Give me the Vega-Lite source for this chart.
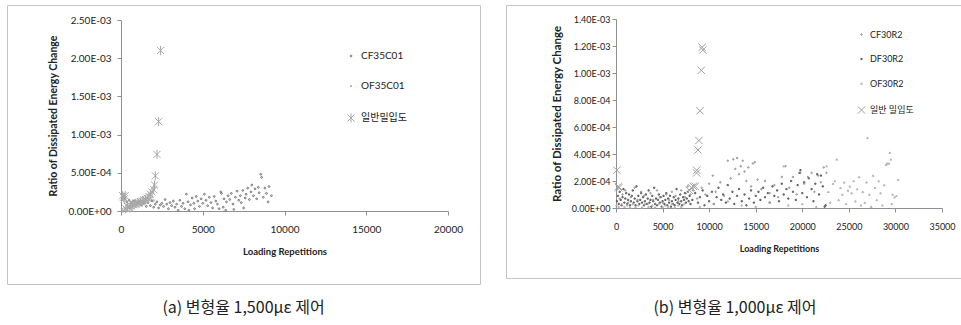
{
"$schema": "https://vega.github.io/schema/vega-lite/v6.json",
"padding": {"left": 6, "top": 4, "right": 0, "bottom": 0},
"background": "white",
"config": {"view": {"stroke": "#c4c4c4", "strokeWidth": 1}, "concat": {"spacing": 24}},
"resolve": {"scale": {"color": "independent", "shape": "independent", "size": "independent", "x": "independent", "y": "independent"}, "legend": {"color": "independent", "shape": "independent", "size": "independent"}},
"hconcat": [
{
"width": 473, "height": 279,
"data": {"values": [
{"s":"CF35C01","x":150,"y":1.9e-4},{"s":"CF35C01","x":250,"y":1.6e-4},{"s":"CF35C01","x":350,"y":1.2e-4},{"s":"CF35C01","x":500,"y":1.4e-4},{"s":"CF35C01","x":650,"y":1.1e-4},{"s":"CF35C01","x":800,"y":1.3e-4},{"s":"CF35C01","x":950,"y":0.9e-4},{"s":"CF35C01","x":1100,"y":1.2e-4},{"s":"CF35C01","x":1250,"y":0.8e-4},{"s":"CF35C01","x":1400,"y":1.0e-4},{"s":"CF35C01","x":1550,"y":0.6e-4},{"s":"CF35C01","x":1650,"y":1.1e-4},{"s":"CF35C01","x":1800,"y":0.7e-4},{"s":"CF35C01","x":1900,"y":1.3e-4},{"s":"CF35C01","x":2000,"y":0.5e-4},{"s":"CF35C01","x":2100,"y":0.9e-4},{"s":"CF35C01","x":2200,"y":1.2e-4},{"s":"CF35C01","x":2300,"y":0.4e-4},{"s":"CF35C01","x":2400,"y":0.8e-4},{"s":"CF35C01","x":2500,"y":1.0e-4},{"s":"CF35C01","x":2600,"y":0.6e-4},{"s":"CF35C01","x":2700,"y":1.5e-4},{"s":"CF35C01","x":2800,"y":0.9e-4},{"s":"CF35C01","x":2900,"y":0.3e-4},{"s":"CF35C01","x":3000,"y":1.1e-4},{"s":"CF35C01","x":3100,"y":0.7e-4},{"s":"CF35C01","x":3200,"y":1.3e-4},{"s":"CF35C01","x":3300,"y":0.5e-4},{"s":"CF35C01","x":3400,"y":0.9e-4},{"s":"CF35C01","x":3500,"y":0.1e-4},{"s":"CF35C01","x":3600,"y":1.4e-4},{"s":"CF35C01","x":3700,"y":0.6e-4},{"s":"CF35C01","x":3800,"y":1.0e-4},{"s":"CF35C01","x":3900,"y":0.3e-4},{"s":"CF35C01","x":4000,"y":2.2e-4},{"s":"CF35C01","x":4100,"y":1.2e-4},{"s":"CF35C01","x":4150,"y":0.1e-4},{"s":"CF35C01","x":4250,"y":0.8e-4},{"s":"CF35C01","x":4350,"y":1.7e-4},{"s":"CF35C01","x":4450,"y":1.0e-4},{"s":"CF35C01","x":4500,"y":0.3e-4},{"s":"CF35C01","x":4600,"y":1.9e-4},{"s":"CF35C01","x":4700,"y":1.3e-4},{"s":"CF35C01","x":4800,"y":0.6e-4},{"s":"CF35C01","x":4900,"y":1.6e-4},{"s":"CF35C01","x":5000,"y":1.0e-4},{"s":"CF35C01","x":5100,"y":2.2e-4},{"s":"CF35C01","x":5200,"y":1.4e-4},{"s":"CF35C01","x":5300,"y":0.7e-4},{"s":"CF35C01","x":5400,"y":1.8e-4},{"s":"CF35C01","x":5500,"y":1.1e-4},{"s":"CF35C01","x":5600,"y":0.4e-4},{"s":"CF35C01","x":5700,"y":1.9e-4},{"s":"CF35C01","x":5800,"y":1.3e-4},{"s":"CF35C01","x":5900,"y":0.9e-4},{"s":"CF35C01","x":6000,"y":0.3e-4},{"s":"CF35C01","x":6100,"y":2.5e-4},{"s":"CF35C01","x":6150,"y":2.3e-4},{"s":"CF35C01","x":6250,"y":0.5e-4},{"s":"CF35C01","x":6300,"y":1.6e-4},{"s":"CF35C01","x":6400,"y":0.1e-4},{"s":"CF35C01","x":6450,"y":1.2e-4},{"s":"CF35C01","x":6550,"y":2.0e-4},{"s":"CF35C01","x":6650,"y":1.5e-4},{"s":"CF35C01","x":6750,"y":2.3e-4},{"s":"CF35C01","x":6850,"y":0.9e-4},{"s":"CF35C01","x":6900,"y":0.2e-4},{"s":"CF35C01","x":7000,"y":1.8e-4},{"s":"CF35C01","x":7100,"y":2.6e-4},{"s":"CF35C01","x":7200,"y":1.4e-4},{"s":"CF35C01","x":7300,"y":2.0e-4},{"s":"CF35C01","x":7350,"y":1.1e-4},{"s":"CF35C01","x":7450,"y":2.7e-4},{"s":"CF35C01","x":7500,"y":0.4e-4},{"s":"CF35C01","x":7600,"y":1.7e-4},{"s":"CF35C01","x":7650,"y":2.2e-4},{"s":"CF35C01","x":7750,"y":3.0e-4},{"s":"CF35C01","x":7850,"y":1.5e-4},{"s":"CF35C01","x":7950,"y":2.5e-4},{"s":"CF35C01","x":8000,"y":3.4e-4},{"s":"CF35C01","x":8100,"y":2.0e-4},{"s":"CF35C01","x":8200,"y":2.9e-4},{"s":"CF35C01","x":8300,"y":1.6e-4},{"s":"CF35C01","x":8400,"y":3.1e-4},{"s":"CF35C01","x":8450,"y":2.4e-4},{"s":"CF35C01","x":8550,"y":4.8e-4},{"s":"CF35C01","x":8600,"y":4.4e-4},{"s":"CF35C01","x":8700,"y":1.8e-4},{"s":"CF35C01","x":8800,"y":3.0e-4},{"s":"CF35C01","x":8900,"y":2.3e-4},{"s":"CF35C01","x":9000,"y":1.2e-4},{"s":"CF35C01","x":9050,"y":3.2e-4},{"s":"CF35C01","x":9200,"y":2.0e-4},
{"s":"OF35C01","x":50,"y":0.3e-4},{"s":"OF35C01","x":100,"y":0.1e-4},{"s":"OF35C01","x":150,"y":0},{"s":"OF35C01","x":200,"y":0.4e-4},{"s":"OF35C01","x":300,"y":0.2e-4},{"s":"OF35C01","x":350,"y":0.6e-4},{"s":"OF35C01","x":400,"y":0},{"s":"OF35C01","x":450,"y":0.4e-4},{"s":"OF35C01","x":550,"y":0.8e-4},{"s":"OF35C01","x":600,"y":0.5e-4},{"s":"OF35C01","x":650,"y":0.2e-4},{"s":"OF35C01","x":700,"y":0.9e-4},{"s":"OF35C01","x":800,"y":0.6e-4},{"s":"OF35C01","x":850,"y":1.0e-4},{"s":"OF35C01","x":950,"y":0.8e-4},{"s":"OF35C01","x":1050,"y":1.1e-4},{"s":"OF35C01","x":1150,"y":0.9e-4},{"s":"OF35C01","x":1250,"y":1.3e-4},{"s":"OF35C01","x":1350,"y":1.0e-4},{"s":"OF35C01","x":1450,"y":1.2e-4},{"s":"OF35C01","x":1550,"y":1.4e-4},{"s":"OF35C01","x":1650,"y":1.3e-4},{"s":"OF35C01","x":1700,"y":1.6e-4},{"s":"OF35C01","x":1800,"y":1.5e-4},{"s":"OF35C01","x":1900,"y":1.8e-4},{"s":"OF35C01","x":2000,"y":1.4e-4},
{"s":"일반밀입도","x":100,"y":2.0e-4},{"s":"일반밀입도","x":150,"y":1.8e-4},{"s":"일반밀입도","x":200,"y":1.6e-4},{"s":"일반밀입도","x":250,"y":2.0e-4},{"s":"일반밀입도","x":300,"y":0.3e-4},{"s":"일반밀입도","x":400,"y":0.6e-4},{"s":"일반밀입도","x":500,"y":0.5e-4},{"s":"일반밀입도","x":600,"y":0.7e-4},{"s":"일반밀입도","x":700,"y":0.9e-4},{"s":"일반밀입도","x":800,"y":0.8e-4},{"s":"일반밀입도","x":900,"y":1.0e-4},{"s":"일반밀입도","x":1000,"y":1.1e-4},{"s":"일반밀입도","x":1100,"y":1.0e-4},{"s":"일반밀입도","x":1200,"y":1.2e-4},{"s":"일반밀입도","x":1300,"y":1.3e-4},{"s":"일반밀입도","x":1400,"y":1.4e-4},{"s":"일반밀입도","x":1500,"y":1.5e-4},{"s":"일반밀입도","x":1600,"y":1.7e-4},{"s":"일반밀입도","x":1700,"y":1.9e-4},{"s":"일반밀입도","x":1800,"y":2.2e-4},{"s":"일반밀입도","x":1900,"y":2.5e-4},{"s":"일반밀입도","x":2000,"y":2.8e-4},{"s":"일반밀입도","x":2050,"y":3.4e-4},{"s":"일반밀입도","x":2100,"y":4.6e-4},{"s":"일반밀입도","x":2200,"y":7.4e-4},{"s":"일반밀입도","x":2300,"y":1.17e-3},{"s":"일반밀입도","x":2420,"y":2.1e-3}
]},
"mark": {"type": "point", "filled": false, "strokeWidth": 1, "opacity": 1},
"encoding": {
"x": {"field": "x", "type": "quantitative",
 "scale": {"domain": [0, 20000], "range": [114, 441], "nice": false, "zero": false},
 "axis": {"orient": "bottom", "offset": -73, "values": [0, 5000, 10000, 15000, 20000], "format": "d", "grid": false, "labelFlush": false,
  "domainColor": "#909090", "tickColor": "#909090", "tickSize": 4, "labelFont": "Lato", "labelFontSize": 10, "labelColor": "#222",
  "labelPadding": 9, "title": "Loading Repetitions", "titleFont": "Lato", "titleFontSize": 9.5, "titleFontWeight": "bold", "titleColor": "#222", "titlePadding": 12}},
"y": {"field": "y", "type": "quantitative",
 "scale": {"domain": [0, 0.0025], "range": [206, 15], "nice": false, "zero": false},
 "axis": {"orient": "left", "offset": -114, "values": [0, 0.0005, 0.001, 0.0015, 0.002, 0.0025], "grid": false, "labelFlush": false,
  "labelExpr": "replace(replace(format(datum.value, '.2e'), 'e-', 'E-0'), 'e+', 'E+0')",
  "domainColor": "#909090", "tickColor": "#909090", "tickSize": 4, "labelFont": "Lato", "labelFontSize": 10, "labelColor": "#222",
  "labelPadding": 6, "title": "Ratio of Dissipated Energy Change", "titleFont": "Lato", "titleFontSize": 10.5, "titleFontWeight": "bold", "titleColor": "#222", "titlePadding": 10}},
"color": {"field": "s", "type": "nominal",
 "scale": {"domain": ["CF35C01", "OF35C01", "일반밀입도"], "range": ["#707070", "#a8a8a8", "#a8a8a8"]},
 "legend": {"orient": "none", "legendX": 339, "legendY": 46, "title": null, "rowPadding": 20, "labelFont": "Lato, Noto Sans CJK KR", "labelFontSize": 10, "labelColor": "#222", "labelOffset": 5, "symbolStrokeWidth": 1}},
"shape": {"field": "s", "type": "nominal",
 "scale": {"domain": ["CF35C01", "OF35C01", "일반밀입도"], "range": ["circle", "circle", "M-1,-1L1,1M-1,1L1,-1M0,-1.3L0,1.3"]}},
"size": {"field": "s", "type": "nominal",
 "scale": {"type": "ordinal", "domain": ["CF35C01", "OF35C01", "일반밀입도"], "range": [3, 2, 50]}}
},
"title": {"text": "(a)  변형율  1,500με  제어", "orient": "bottom", "font": "Noto Sans CJK KR", "fontSize": 16, "fontWeight": "normal", "color": "#222", "offset": 16}
},
{
"width": 458, "height": 273,
"data": {"values": [
{"s":"DF30R2","x":100,"y":0.5e-4},{"s":"DF30R2","x":200,"y":0.9e-4},{"s":"DF30R2","x":300,"y":0.3e-4},{"s":"DF30R2","x":400,"y":1.2e-4},{"s":"DF30R2","x":500,"y":0.6e-4},{"s":"DF30R2","x":600,"y":0.2e-4},{"s":"DF30R2","x":700,"y":0.8e-4},{"s":"DF30R2","x":800,"y":1.4e-4},{"s":"DF30R2","x":900,"y":0.4e-4},{"s":"DF30R2","x":1000,"y":0.7e-4},{"s":"DF30R2","x":1100,"y":1.1e-4},{"s":"DF30R2","x":1200,"y":0.3e-4},{"s":"DF30R2","x":1300,"y":0.6e-4},{"s":"DF30R2","x":1400,"y":1.0e-4},{"s":"DF30R2","x":1500,"y":0.2e-4},{"s":"DF30R2","x":1600,"y":0.5e-4},{"s":"DF30R2","x":1700,"y":0.9e-4},{"s":"DF30R2","x":1800,"y":1.3e-4},{"s":"DF30R2","x":1900,"y":0.4e-4},{"s":"DF30R2","x":2000,"y":0.7e-4},{"s":"DF30R2","x":2100,"y":0.2e-4},{"s":"DF30R2","x":2200,"y":1.6e-4},{"s":"DF30R2","x":2300,"y":0.5e-4},{"s":"DF30R2","x":2400,"y":0.9e-4},{"s":"DF30R2","x":2500,"y":0.3e-4},{"s":"DF30R2","x":2600,"y":0.6e-4},{"s":"DF30R2","x":2700,"y":1.1e-4},{"s":"DF30R2","x":2800,"y":0.4e-4},{"s":"DF30R2","x":2900,"y":0.8e-4},{"s":"DF30R2","x":3000,"y":0.2e-4},{"s":"DF30R2","x":3100,"y":0.5e-4},{"s":"DF30R2","x":3200,"y":1.0e-4},{"s":"DF30R2","x":3300,"y":0.3e-4},{"s":"DF30R2","x":3400,"y":0.7e-4},{"s":"DF30R2","x":3500,"y":1.3e-4},{"s":"DF30R2","x":3600,"y":0.4e-4},{"s":"DF30R2","x":3700,"y":0.6e-4},{"s":"DF30R2","x":3800,"y":0.1e-4},{"s":"DF30R2","x":3900,"y":0.9e-4},{"s":"DF30R2","x":4000,"y":0.5e-4},{"s":"DF30R2","x":4100,"y":1.5e-4},{"s":"DF30R2","x":4200,"y":0.3e-4},{"s":"DF30R2","x":4300,"y":0.7e-4},{"s":"DF30R2","x":4400,"y":0.2e-4},{"s":"DF30R2","x":4500,"y":0.6e-4},{"s":"DF30R2","x":4600,"y":1.0e-4},{"s":"DF30R2","x":4700,"y":0.4e-4},{"s":"DF30R2","x":4800,"y":0.8e-4},{"s":"DF30R2","x":4900,"y":0.1e-4},{"s":"DF30R2","x":5000,"y":0.5e-4},{"s":"DF30R2","x":5100,"y":0.9e-4},{"s":"DF30R2","x":5200,"y":0.3e-4},{"s":"DF30R2","x":5300,"y":0.6e-4},{"s":"DF30R2","x":5400,"y":1.1e-4},{"s":"DF30R2","x":5500,"y":0.2e-4},{"s":"DF30R2","x":5600,"y":0.7e-4},{"s":"DF30R2","x":5700,"y":0.4e-4},{"s":"DF30R2","x":5800,"y":0.9e-4},{"s":"DF30R2","x":5900,"y":0.1e-4},{"s":"DF30R2","x":6000,"y":0.5e-4},{"s":"DF30R2","x":6100,"y":0.3e-4},{"s":"DF30R2","x":6200,"y":0.8e-4},{"s":"DF30R2","x":6300,"y":0.2e-4},{"s":"DF30R2","x":6400,"y":0.6e-4},{"s":"DF30R2","x":6500,"y":1.4e-4},{"s":"DF30R2","x":6600,"y":0.4e-4},{"s":"DF30R2","x":6700,"y":0.7e-4},{"s":"DF30R2","x":6800,"y":0.3e-4},{"s":"DF30R2","x":6900,"y":1.0e-4},{"s":"DF30R2","x":7000,"y":0.5e-4},{"s":"DF30R2","x":7100,"y":0.2e-4},{"s":"DF30R2","x":7200,"y":0.8e-4},{"s":"DF30R2","x":7300,"y":0.6e-4},{"s":"DF30R2","x":7400,"y":1.1e-4},{"s":"DF30R2","x":7500,"y":0.4e-4},{"s":"DF30R2","x":7600,"y":0.7e-4},{"s":"DF30R2","x":7700,"y":1.2e-4},{"s":"DF30R2","x":7800,"y":0.5e-4},{"s":"DF30R2","x":7900,"y":0.9e-4},{"s":"DF30R2","x":8000,"y":0.3e-4},
{"s":"DF30R2","x":8200,"y":0.6e-4},{"s":"DF30R2","x":8500,"y":1.1e-4},{"s":"DF30R2","x":8800,"y":0.4e-4},{"s":"DF30R2","x":9000,"y":0.8e-4},{"s":"DF30R2","x":9300,"y":1.3e-4},{"s":"DF30R2","x":9500,"y":0.2e-4},{"s":"DF30R2","x":9800,"y":0.9e-4},{"s":"DF30R2","x":10000,"y":0.5e-4},{"s":"DF30R2","x":10300,"y":1.2e-4},{"s":"DF30R2","x":10500,"y":0.3e-4},{"s":"DF30R2","x":10800,"y":0.8e-4},{"s":"DF30R2","x":11000,"y":1.5e-4},{"s":"DF30R2","x":11300,"y":0.6e-4},{"s":"DF30R2","x":11500,"y":1.0e-4},{"s":"DF30R2","x":11800,"y":0.4e-4},{"s":"DF30R2","x":12000,"y":1.7e-4},{"s":"DF30R2","x":12200,"y":0.7e-4},{"s":"DF30R2","x":12500,"y":1.2e-4},{"s":"DF30R2","x":12700,"y":0.3e-4},{"s":"DF30R2","x":13000,"y":0.9e-4},{"s":"DF30R2","x":13200,"y":1.4e-4},{"s":"DF30R2","x":13500,"y":0.5e-4},{"s":"DF30R2","x":13800,"y":1.0e-4},{"s":"DF30R2","x":14000,"y":0.2e-4},{"s":"DF30R2","x":14300,"y":0.7e-4},{"s":"DF30R2","x":14500,"y":1.3e-4},{"s":"DF30R2","x":14800,"y":0.4e-4},{"s":"DF30R2","x":15000,"y":0.9e-4},{"s":"DF30R2","x":15300,"y":1.2e-4},{"s":"DF30R2","x":15500,"y":0.6e-4},{"s":"DF30R2","x":15800,"y":1.5e-4},{"s":"DF30R2","x":16000,"y":0.8e-4},{"s":"DF30R2","x":16300,"y":1.1e-4},{"s":"DF30R2","x":16500,"y":0.4e-4},{"s":"DF30R2","x":16800,"y":1.6e-4},{"s":"DF30R2","x":17000,"y":0.9e-4},{"s":"DF30R2","x":17300,"y":1.3e-4},{"s":"DF30R2","x":17500,"y":0.5e-4},{"s":"DF30R2","x":17800,"y":1.8e-4},{"s":"DF30R2","x":18000,"y":1.0e-4},{"s":"DF30R2","x":18300,"y":1.4e-4},{"s":"DF30R2","x":18500,"y":0.7e-4},{"s":"DF30R2","x":18800,"y":2.0e-4},{"s":"DF30R2","x":19000,"y":1.2e-4},{"s":"DF30R2","x":19300,"y":0.6e-4},{"s":"DF30R2","x":19500,"y":1.7e-4},{"s":"DF30R2","x":19700,"y":2.6e-4},{"s":"DF30R2","x":19800,"y":2.8e-4},{"s":"DF30R2","x":20000,"y":1.1e-4},{"s":"DF30R2","x":20200,"y":1.9e-4},{"s":"DF30R2","x":20500,"y":0.8e-4},{"s":"DF30R2","x":20700,"y":2.2e-4},{"s":"DF30R2","x":21000,"y":1.4e-4},{"s":"DF30R2","x":21200,"y":0.5e-4},{"s":"DF30R2","x":21400,"y":1.8e-4},{"s":"DF30R2","x":21600,"y":2.5e-4},{"s":"DF30R2","x":21800,"y":1.0e-4},{"s":"DF30R2","x":22000,"y":2.4e-4},{"s":"DF30R2","x":22200,"y":1.6e-4},{"s":"DF30R2","x":22400,"y":0.1e-4},{"s":"DF30R2","x":22500,"y":0.2e-4},
{"s":"CF30R2","x":150,"y":1.4e-4},{"s":"CF30R2","x":400,"y":0.7e-4},{"s":"CF30R2","x":700,"y":1.0e-4},{"s":"CF30R2","x":1000,"y":1.3e-4},{"s":"CF30R2","x":1300,"y":0.4e-4},{"s":"CF30R2","x":1600,"y":0.8e-4},{"s":"CF30R2","x":2000,"y":1.5e-4},{"s":"CF30R2","x":2300,"y":0.6e-4},{"s":"CF30R2","x":2700,"y":1.2e-4},{"s":"CF30R2","x":3000,"y":0.9e-4},{"s":"CF30R2","x":3400,"y":0.3e-4},{"s":"CF30R2","x":3700,"y":1.1e-4},{"s":"CF30R2","x":4000,"y":0.6e-4},{"s":"CF30R2","x":4400,"y":1.3e-4},{"s":"CF30R2","x":4700,"y":0.8e-4},{"s":"CF30R2","x":5000,"y":0.4e-4},{"s":"CF30R2","x":5400,"y":1.0e-4},{"s":"CF30R2","x":5700,"y":0.6e-4},{"s":"CF30R2","x":6000,"y":1.2e-4},{"s":"CF30R2","x":6400,"y":0.9e-4},{"s":"CF30R2","x":6700,"y":0.5e-4},{"s":"CF30R2","x":7000,"y":1.3e-4},{"s":"CF30R2","x":7400,"y":0.8e-4},{"s":"CF30R2","x":7700,"y":1.6e-4},{"s":"CF30R2","x":8000,"y":1.0e-4},
{"s":"CF30R2","x":8300,"y":1.3e-4},{"s":"CF30R2","x":8700,"y":0.7e-4},{"s":"CF30R2","x":9200,"y":1.5e-4},{"s":"CF30R2","x":9600,"y":1.0e-4},{"s":"CF30R2","x":10000,"y":1.8e-4},{"s":"CF30R2","x":10400,"y":2.4e-4},{"s":"CF30R2","x":10700,"y":1.2e-4},{"s":"CF30R2","x":11200,"y":1.9e-4},{"s":"CF30R2","x":11600,"y":0.9e-4},{"s":"CF30R2","x":12000,"y":3.5e-4},{"s":"CF30R2","x":12300,"y":2.2e-4},{"s":"CF30R2","x":12600,"y":3.6e-4},{"s":"CF30R2","x":12800,"y":2.9e-4},{"s":"CF30R2","x":13000,"y":3.7e-4},{"s":"CF30R2","x":13200,"y":2.5e-4},{"s":"CF30R2","x":13400,"y":3.1e-4},{"s":"CF30R2","x":13600,"y":3.5e-4},{"s":"CF30R2","x":13800,"y":2.7e-4},{"s":"CF30R2","x":14000,"y":2.0e-4},{"s":"CF30R2","x":14200,"y":3.0e-4},{"s":"CF30R2","x":14500,"y":1.6e-4},{"s":"CF30R2","x":14700,"y":3.3e-4},{"s":"CF30R2","x":14900,"y":3.4e-4},{"s":"CF30R2","x":15200,"y":2.1e-4},{"s":"CF30R2","x":15600,"y":1.4e-4},{"s":"CF30R2","x":16000,"y":2.0e-4},{"s":"CF30R2","x":16500,"y":1.1e-4},{"s":"CF30R2","x":17000,"y":1.7e-4},{"s":"CF30R2","x":17400,"y":0.8e-4},{"s":"CF30R2","x":17800,"y":2.3e-4},{"s":"CF30R2","x":18200,"y":3.1e-4},{"s":"CF30R2","x":18600,"y":1.5e-4},{"s":"CF30R2","x":19000,"y":2.3e-4},{"s":"CF30R2","x":19400,"y":1.0e-4},{"s":"CF30R2","x":19800,"y":2.6e-4},{"s":"CF30R2","x":20200,"y":1.8e-4},{"s":"CF30R2","x":20600,"y":2.3e-4},{"s":"CF30R2","x":21000,"y":2.6e-4},{"s":"CF30R2","x":21300,"y":1.2e-4},{"s":"CF30R2","x":21700,"y":2.4e-4},{"s":"CF30R2","x":22000,"y":1.9e-4},{"s":"CF30R2","x":22300,"y":3.0e-4},{"s":"CF30R2","x":22600,"y":2.6e-4},
{"s":"OF30R2","x":50,"y":0.2e-4},{"s":"OF30R2","x":300,"y":0.1e-4},{"s":"OF30R2","x":600,"y":0.3e-4},{"s":"OF30R2","x":900,"y":0.1e-4},{"s":"OF30R2","x":1200,"y":0.2e-4},{"s":"OF30R2","x":1500,"y":0.05e-4},{"s":"OF30R2","x":1800,"y":0.3e-4},{"s":"OF30R2","x":2100,"y":0.1e-4},{"s":"OF30R2","x":2400,"y":0.2e-4},{"s":"OF30R2","x":2800,"y":0.05e-4},{"s":"OF30R2","x":3100,"y":0.3e-4},{"s":"OF30R2","x":3500,"y":0.1e-4},{"s":"OF30R2","x":3900,"y":0.2e-4},{"s":"OF30R2","x":4200,"y":0.05e-4},{"s":"OF30R2","x":4600,"y":0.3e-4},{"s":"OF30R2","x":5000,"y":0.1e-4},{"s":"OF30R2","x":5300,"y":0.2e-4},{"s":"OF30R2","x":5600,"y":0.1e-4},{"s":"OF30R2","x":6000,"y":0.3e-4},{"s":"OF30R2","x":6300,"y":0.05e-4},{"s":"OF30R2","x":6700,"y":0.2e-4},{"s":"OF30R2","x":7000,"y":0.1e-4},{"s":"OF30R2","x":7300,"y":0.3e-4},
{"s":"OF30R2","x":9000,"y":0.1e-4},{"s":"OF30R2","x":10500,"y":0.3e-4},{"s":"OF30R2","x":12000,"y":0.5e-4},{"s":"OF30R2","x":13500,"y":0.2e-4},{"s":"OF30R2","x":15000,"y":0.1e-4},{"s":"OF30R2","x":16500,"y":0.4e-4},{"s":"OF30R2","x":18000,"y":3.1e-4},{"s":"OF30R2","x":18500,"y":0.2e-4},{"s":"OF30R2","x":20000,"y":0.3e-4},{"s":"OF30R2","x":21500,"y":0.1e-4},
{"s":"OF30R2","x":22600,"y":3.1e-4},{"s":"OF30R2","x":22800,"y":1.2e-4},{"s":"OF30R2","x":23000,"y":0.4e-4},{"s":"OF30R2","x":23300,"y":1.8e-4},{"s":"OF30R2","x":23500,"y":2.0e-4},{"s":"OF30R2","x":23700,"y":3.6e-4},{"s":"OF30R2","x":23900,"y":0.6e-4},{"s":"OF30R2","x":24100,"y":1.5e-4},{"s":"OF30R2","x":24300,"y":1.0e-4},{"s":"OF30R2","x":24500,"y":1.9e-4},{"s":"OF30R2","x":24700,"y":0.3e-4},{"s":"OF30R2","x":24900,"y":1.3e-4},{"s":"OF30R2","x":25100,"y":1.6e-4},{"s":"OF30R2","x":25300,"y":1.1e-4},{"s":"OF30R2","x":25500,"y":2.0e-4},{"s":"OF30R2","x":25700,"y":0.5e-4},{"s":"OF30R2","x":25900,"y":1.4e-4},{"s":"OF30R2","x":26100,"y":2.3e-4},{"s":"OF30R2","x":26300,"y":0.2e-4},{"s":"OF30R2","x":26500,"y":1.2e-4},{"s":"OF30R2","x":26700,"y":0.4e-4},{"s":"OF30R2","x":26900,"y":1.9e-4},{"s":"OF30R2","x":27000,"y":5.2e-4},{"s":"OF30R2","x":27200,"y":1.0e-4},{"s":"OF30R2","x":27400,"y":0.1e-4},{"s":"OF30R2","x":27600,"y":2.4e-4},{"s":"OF30R2","x":27800,"y":1.5e-4},{"s":"OF30R2","x":28000,"y":0.6e-4},{"s":"OF30R2","x":28200,"y":2.0e-4},{"s":"OF30R2","x":28400,"y":1.1e-4},{"s":"OF30R2","x":28600,"y":0.2e-4},{"s":"OF30R2","x":28800,"y":1.7e-4},{"s":"OF30R2","x":29000,"y":3.2e-4},{"s":"OF30R2","x":29100,"y":3.3e-4},{"s":"OF30R2","x":29300,"y":3.3e-4},{"s":"OF30R2","x":29400,"y":4.1e-4},{"s":"OF30R2","x":29500,"y":3.6e-4},{"s":"OF30R2","x":29600,"y":0.3e-4},{"s":"OF30R2","x":29700,"y":1.0e-4},{"s":"OF30R2","x":29900,"y":0.8e-4},{"s":"OF30R2","x":30100,"y":0.9e-4},{"s":"OF30R2","x":30300,"y":2.1e-4},
{"s":"일반 밀입도","x":100,"y":2.8e-4},{"s":"일반 밀입도","x":250,"y":1.6e-4},{"s":"일반 밀입도","x":300,"y":1.5e-4},{"s":"일반 밀입도","x":7900,"y":1.3e-4},{"s":"일반 밀입도","x":8100,"y":1.5e-4},{"s":"일반 밀입도","x":8300,"y":1.6e-4},{"s":"일반 밀입도","x":8500,"y":1.6e-4},{"s":"일반 밀입도","x":8650,"y":2.6e-4},{"s":"일반 밀입도","x":8660,"y":2.8e-4},{"s":"일반 밀입도","x":8800,"y":4.3e-4},{"s":"일반 밀입도","x":8900,"y":5.0e-4},{"s":"일반 밀입도","x":9020,"y":7.2e-4},{"s":"일반 밀입도","x":9160,"y":1.02e-3},{"s":"일반 밀입도","x":9250,"y":1.19e-3},{"s":"일반 밀입도","x":9320,"y":1.17e-3}
]},
"mark": {"type": "point", "filled": false, "strokeWidth": 1, "opacity": 1},
"encoding": {
"x": {"field": "x", "type": "quantitative",
 "scale": {"domain": [0, 35000], "range": [110, 436], "nice": false, "zero": false},
 "axis": {"orient": "bottom", "offset": -70, "values": [0, 5000, 10000, 15000, 20000, 25000, 30000, 35000], "format": "d", "grid": false, "labelFlush": false,
  "domainColor": "#909090", "tickColor": "#909090", "tickSize": 4, "labelFont": "Lato", "labelFontSize": 9, "labelColor": "#222",
  "labelPadding": 10, "title": "Loading Repetitions", "titleFont": "Lato", "titleFontSize": 9, "titleFontWeight": "bold", "titleColor": "#222", "titlePadding": 13}},
"y": {"field": "y", "type": "quantitative",
 "scale": {"domain": [0, 0.0014], "range": [203, 14], "nice": false, "zero": false},
 "axis": {"orient": "left", "offset": -110, "values": [0, 0.0002, 0.0004, 0.0006, 0.0008, 0.001, 0.0012, 0.0014], "grid": false, "labelFlush": false,
  "labelExpr": "replace(replace(format(datum.value, '.2e'), 'e-', 'E-0'), 'e+', 'E+0')",
  "domainColor": "#909090", "tickColor": "#909090", "tickSize": 4, "labelFont": "Lato", "labelFontSize": 9, "labelColor": "#222",
  "labelPadding": 2, "title": "Ratio of Dissipated Energy Change", "titleFont": "Lato", "titleFontSize": 11.5, "titleFontWeight": "bold", "titleColor": "#222", "titlePadding": 9}},
"color": {"field": "s", "type": "nominal",
 "scale": {"domain": ["CF30R2", "DF30R2", "OF30R2", "일반 밀입도"], "range": ["#8a8a8a", "#555555", "#b0b0b0", "#a0a0a0"]},
 "legend": {"orient": "none", "legendX": 351, "legendY": 25, "title": null, "rowPadding": 14.5, "labelFont": "Lato, Noto Sans CJK KR", "labelFontSize": 9, "labelColor": "#222", "labelOffset": 4, "symbolStrokeWidth": 1}},
"shape": {"field": "s", "type": "nominal",
 "scale": {"domain": ["CF30R2", "DF30R2", "OF30R2", "일반 밀입도"], "range": ["circle", "square", "triangle-up", "M-1,-1L1,1M-1,1L1,-1"]}},
"size": {"field": "s", "type": "nominal",
 "scale": {"type": "ordinal", "domain": ["CF30R2", "DF30R2", "OF30R2", "일반 밀입도"], "range": [2, 1.5, 3, 55]}}
},
"title": {"text": "(b)  변형율  1,000με  제어", "orient": "bottom", "font": "Noto Sans CJK KR", "fontSize": 16, "fontWeight": "normal", "color": "#222", "offset": 22}
}
]
}
